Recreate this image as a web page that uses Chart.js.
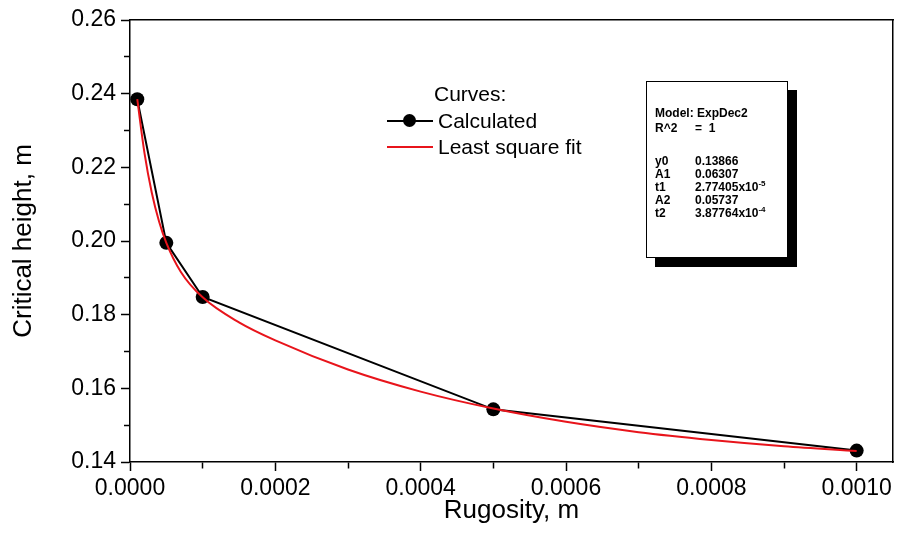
<!DOCTYPE html>
<html>
<head>
<meta charset="utf-8">
<script src="https://cdn.jsdelivr.net/npm/chart.js@4.4.0/dist/chart.umd.min.js"></script>
<style>
body { margin: 0; background: #fff; }
#wrap { position: relative; width: 907px; height: 549px; font-family: "Liberation Sans", Arial, sans-serif; color: #000; }
#chart { position: absolute; left: 0; top: 0; }
.lg { position: absolute; font-size: 21px; line-height: 24px; white-space: nowrap; }
.sample { position: absolute; height: 2px; width: 46px; }
.dot { position: absolute; width: 13px; height: 13px; border-radius: 50%; background: #000; }
#model { position: absolute; left: 646px; top: 81px; width: 140px; height: 175px; background: #fff;
  border: 1.5px solid #000; box-shadow: 9px 9px 0 #000; font-size: 12px; font-weight: bold; }
#model div { position: absolute; white-space: nowrap; line-height: 12px; }
#model sup { font-size: 8px; vertical-align: 5px; line-height: 0; }
</style>
</head>
<body>
<div id="wrap">
  <canvas id="chart" width="907" height="549"></canvas>

  <div class="lg" style="left:434px; top:82px;">Curves:</div>
  <div class="sample" style="left:387px; top:120px; background:#000;"></div>
  <div class="dot" style="left:403px; top:114px;"></div>
  <div class="lg" style="left:438px; top:109px;">Calculated</div>
  <div class="sample" style="left:387px; top:146px; background:#e8141b;"></div>
  <div class="lg" style="left:438px; top:135px;">Least square fit</div>

  <div id="model">
    <div style="left:8px; top:25px;">Model: ExpDec2</div>
    <div style="left:8px; top:40px;">R^2</div><div style="left:48px; top:40px;">= &nbsp;1</div>
    <div style="left:8px; top:73px;">y0</div><div style="left:48px; top:73px;">0.13866</div>
    <div style="left:8px; top:86px;">A1</div><div style="left:48px; top:86px;">0.06307</div>
    <div style="left:8px; top:99px;">t1</div><div style="left:48px; top:99px;">2.77405x10<sup>-5</sup></div>
    <div style="left:8px; top:112px;">A2</div><div style="left:48px; top:112px;">0.05737</div>
    <div style="left:8px; top:125px;">t2</div><div style="left:48px; top:125px;">3.87764x10<sup>-4</sup></div>
  </div>
</div>
<script>
// Calculated points
const calcX = [0.00001, 0.00005, 0.0001, 0.0005, 0.001];
const calcY = [0.2385, 0.1995, 0.1848, 0.1543, 0.1431];
// Least square fit curve
const fitX = [0.00001, 0.00002, 0.00003, 0.00004, 0.00005, 0.00007, 0.0001, 0.00015,
              0.0002, 0.0003, 0.0004, 0.0005, 0.0006, 0.0007, 0.0008, 0.0009, 0.001];
const fitY = [0.2385, 0.2238, 0.2131, 0.2053, 0.1995, 0.1916, 0.1847, 0.1779,
              0.1730, 0.1651, 0.1591, 0.1545, 0.1509, 0.1481, 0.1460, 0.1443, 0.1430];
// Major tick labels
const xTickValues = [0, 0.0002, 0.0004, 0.0006, 0.0008, 0.001];
const xTickLabels = ["0.0000", "0.0002", "0.0004", "0.0006", "0.0008", "0.0010"];
const yTickValues = [0.14, 0.16, 0.18, 0.20, 0.22, 0.24, 0.26];
const yTickLabels = ["0.14", "0.16", "0.18", "0.20", "0.22", "0.24", "0.26"];

const FONT = "'Liberation Sans', Arial, sans-serif";

function majorIndex(values, v) {
    return values.findIndex(t => Math.abs(t - v) < 1e-9);
}

new Chart(document.getElementById("chart"), {
    type: "line",
    data: {
        datasets: [
            {
                label: "Least square fit",
                data: fitX.map((x, i) => ({x: x, y: fitY[i]})),
                borderColor: "#e8141b",
                borderWidth: 2,
                pointRadius: 0,
                cubicInterpolationMode: "monotone",
                order: 0
            },
            {
                label: "Calculated",
                data: calcX.map((x, i) => ({x: x, y: calcY[i]})),
                borderColor: "#000",
                borderWidth: 2,
                pointRadius: 7,
                pointBackgroundColor: "#000",
                pointBorderWidth: 0,
                tension: 0,
                order: 1
            }
        ]
    },
    options: {
        responsive: false,
        animation: false,
        layout: { padding: 0 },
        plugins: { legend: { display: false }, tooltip: { enabled: false } },
        scales: {
            x: {
                type: "linear",
                position: "bottom",
                min: 0,
                max: 0.00105,
                afterFit: s => { s.height = 87; },
                border: { color: "#000", width: 1.5 },
                grid: {
                    drawOnChartArea: false,
                    tickLength: 9,
                    tickColor: "#000",
                    tickWidth: 1.5,
                    // minor ticks are shorter
                    tickBorderDash: ctx => majorIndex(xTickValues, ctx.tick.value) >= 0 ? [] : [6, 100]
                },
                ticks: {
                    stepSize: 0.0001,
                    includeBounds: false,
                    autoSkip: false,
                    maxRotation: 0,
                    padding: 4,
                    color: "#000",
                    font: { size: 23, family: FONT },
                    callback: v => {
                        const i = majorIndex(xTickValues, v);
                        return i >= 0 ? xTickLabels[i] : "";
                    }
                },
                title: {
                    display: true,
                    text: "Rugosity, m",
                    color: "#000",
                    font: { size: 26, family: FONT },
                    padding: { top: 0, bottom: 23 }
                }
            },
            y: {
                type: "linear",
                position: "left",
                min: 0.14,
                max: 0.26,
                afterFit: s => { s.width = 130; },
                border: { color: "#000", width: 1.5 },
                grid: {
                    drawOnChartArea: false,
                    tickLength: 9,
                    tickColor: "#000",
                    tickWidth: 1.5,
                    tickBorderDash: ctx => majorIndex(yTickValues, ctx.tick.value) >= 0 ? [] : [6, 100],
                    tickBorderDashOffset: ctx => majorIndex(yTickValues, ctx.tick.value) >= 0 ? 0 : 103
                },
                ticks: {
                    stepSize: 0.01,
                    autoSkip: false,
                    padding: 5,
                    color: "#000",
                    font: { size: 23, family: FONT },
                    callback: v => {
                        const i = majorIndex(yTickValues, v);
                        return i >= 0 ? yTickLabels[i] : "";
                    }
                },
                title: {
                    display: true,
                    text: "Critical height, m",
                    color: "#000",
                    font: { size: 26, family: FONT },
                    padding: { top: 8, bottom: 0 }
                }
            },
            x2: {
                type: "linear",
                position: "top",
                min: 0,
                max: 0.00105,
                afterFit: s => { s.height = 20; },
                border: { color: "#000", width: 1.5 },
                grid: { drawOnChartArea: false, drawTicks: false },
                ticks: { display: false }
            },
            y2: {
                type: "linear",
                position: "right",
                min: 0.14,
                max: 0.26,
                afterFit: s => { s.width = 14; },
                border: { color: "#000", width: 1.5 },
                grid: { drawOnChartArea: false, drawTicks: false },
                ticks: { display: false }
            }
        }
    }
});
</script>
</body>
</html>
